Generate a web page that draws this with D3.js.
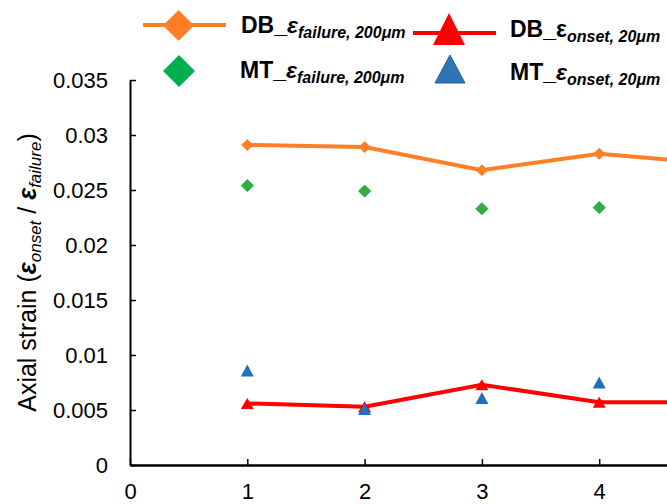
<!DOCTYPE html>
<html>
<head>
<meta charset="utf-8">
<script src="https://cdn.jsdelivr.net/npm/d3@7"></script>
<style>
  body { margin: 0; background: #fff; }
  svg { display: block; font-family: "Liberation Sans", Arial, sans-serif; }
</style>
</head>
<body>
<svg id="chart" width="667" height="504"></svg>
<script>
// specimen index along x
var xValues = [1, 2, 3, 4, 5];
var dbFailure = [0.0291, 0.0289, 0.0268, 0.0283, 0.0274];
var mtFailure = [0.0254, 0.0249, 0.0233, 0.0234];
var dbOnset = [0.0056, 0.0053, 0.0073, 0.0057, 0.0057];
var mtOnset = [0.0086, 0.0051, 0.0061, 0.0075];
var yTicks = [0, 0.005, 0.01, 0.015, 0.02, 0.025, 0.03, 0.035];
var yTickLabels = ["0", "0.005", "0.01", "0.015", "0.02", "0.025", "0.03", "0.035"];
var xTicks = [0, 1, 2, 3, 4];

var orange = "#ff7f27", green = "#2db34a", red = "#ff0000", blue = "#1f70c1";

var svg = d3.select("#chart");

var x = d3.scaleLinear().domain([0, 5]).range([130, 716.5]);
var y = d3.scaleLinear().domain([0, 0.035]).range([465, 80]);

function diamond(r) {
    return "M0," + (-r) + "L" + r + ",0L0," + r + "L" + (-r) + ",0Z";
}
function triangle(w, h) {
    return "M0," + (-h / 2) + "L" + (w / 2) + "," + (h / 2) + "L" + (-w / 2) + "," + (h / 2) + "Z";
}
function pts(arr) {
    return arr.map(function(v, i) { return [xValues[i], v]; });
}

// axes
var yAxis = d3.axisLeft(y).tickValues(yTicks).tickSizeInner(-6).tickSizeOuter(0)
    .tickPadding(22).tickFormat(function(d, i) { return yTickLabels[i]; });
var gy = svg.append("g").attr("transform", "translate(130,0)").call(yAxis);
gy.select(".domain").attr("stroke", "#000").attr("stroke-width", 2);
gy.selectAll(".tick line").attr("stroke", "#000").attr("stroke-width", 1.5);
gy.selectAll(".tick text").attr("font-size", 22).attr("fill", "#000")
    .attr("font-family", "Liberation Sans, Arial, sans-serif");

var xAxis = d3.axisBottom(x).tickValues(xTicks).tickSizeInner(-6).tickSizeOuter(0)
    .tickPadding(18).tickFormat(d3.format("d"));
var gx = svg.append("g").attr("transform", "translate(0,465)").call(xAxis);
gx.select(".domain").attr("stroke", "#000").attr("stroke-width", 2.5);
gx.selectAll(".tick line").attr("stroke", "#000").attr("stroke-width", 1.5);
gx.selectAll(".tick text").attr("font-size", 22).attr("fill", "#000")
    .attr("font-family", "Liberation Sans, Arial, sans-serif");

// y axis title
var yt = svg.append("text")
    .attr("transform", "translate(36," + ((80 + 465) / 2) + ") rotate(-90)")
    .attr("text-anchor", "middle")
    .attr("font-size", 25);
yt.append("tspan").text("Axial strain (");
yt.append("tspan").attr("font-style", "italic").attr("font-weight", "bold").text("ε");
yt.append("tspan").attr("font-style", "italic").attr("font-size", 17).attr("dy", 5).text("onset");
yt.append("tspan").attr("dy", -5).text(" / ");
yt.append("tspan").attr("font-style", "italic").attr("font-weight", "bold").text("ε");
yt.append("tspan").attr("font-style", "italic").attr("font-size", 17).attr("dy", 5).text("failure");
yt.append("tspan").attr("dy", -5).text(")");

var line = d3.line().x(function(d) { return x(d[0]); }).y(function(d) { return y(d[1]); });

// DB failure line + diamonds
svg.append("path").datum(pts(dbFailure)).attr("d", line)
    .attr("fill", "none").attr("stroke", orange).attr("stroke-width", 4);
svg.selectAll(".dbf").data(pts(dbFailure)).enter().append("path")
    .attr("class", "dbf")
    .attr("transform", function(d) { return "translate(" + x(d[0]) + "," + y(d[1]) + ")"; })
    .attr("d", diamond(6)).attr("fill", orange);

// MT failure diamonds
svg.selectAll(".mtf").data(pts(mtFailure)).enter().append("path")
    .attr("class", "mtf")
    .attr("transform", function(d) { return "translate(" + x(d[0]) + "," + y(d[1]) + ")"; })
    .attr("d", diamond(6)).attr("fill", "#3aaa3f").attr("stroke", "#12b04a").attr("stroke-width", 1);

// DB onset line + triangles
svg.append("path").datum(pts(dbOnset)).attr("d", line)
    .attr("fill", "none").attr("stroke", red).attr("stroke-width", 4);
svg.selectAll(".dbo").data(pts(dbOnset)).enter().append("path")
    .attr("class", "dbo")
    .attr("transform", function(d) { return "translate(" + x(d[0]) + "," + y(d[1]) + ")"; })
    .attr("d", triangle(13, 11)).attr("fill", red);

// MT onset triangles
svg.selectAll(".mto").data(pts(mtOnset)).enter().append("path")
    .attr("class", "mto")
    .attr("transform", function(d) { return "translate(" + x(d[0]) + "," + y(d[1]) + ")"; })
    .attr("d", triangle(13, 12)).attr("fill", blue);

// legend
function label(g, tx, ty, main, sub, epsItalic) {
    var t = g.append("text").attr("x", tx).attr("y", ty)
        .attr("font-size", 23).attr("font-weight", "bold").attr("fill", "#000");
    t.append("tspan").text(main);
    t.append("tspan").attr("font-style", epsItalic ? "italic" : "normal").text("ε");
    t.append("tspan").attr("font-style", "italic").attr("font-size", 16).attr("dy", 5).text(sub);
}
var lg = svg.append("g");
lg.append("line").attr("x1", 143).attr("x2", 226).attr("y1", 25).attr("y2", 25)
    .attr("stroke", orange).attr("stroke-width", 4);
lg.append("path").attr("transform", "translate(178.5,25.5)").attr("d", diamond(15.5)).attr("fill", orange);
label(lg, 241, 33, "DB_", "failure, 200μm", true);

lg.append("line").attr("x1", 413).attr("x2", 496).attr("y1", 33).attr("y2", 33)
    .attr("stroke", red).attr("stroke-width", 4);
lg.append("path").attr("transform", "translate(449,29)").attr("d", triangle(32, 32)).attr("fill", red);
label(lg, 510, 37, "DB_", "onset, 20μm", false);

lg.append("path").attr("transform", "translate(179,71)").attr("d", diamond(16)).attr("fill", "#00b050");
label(lg, 240, 78, "MT_", "failure, 200μm", true);

lg.append("path").attr("transform", "translate(450,69)").attr("d", triangle(30, 28))
    .attr("fill", "#2e75b6").attr("stroke", "#1f5f9f").attr("stroke-width", 1);
label(lg, 510, 80, "MT_", "onset, 20μm", true);
</script>
</body>
</html>
